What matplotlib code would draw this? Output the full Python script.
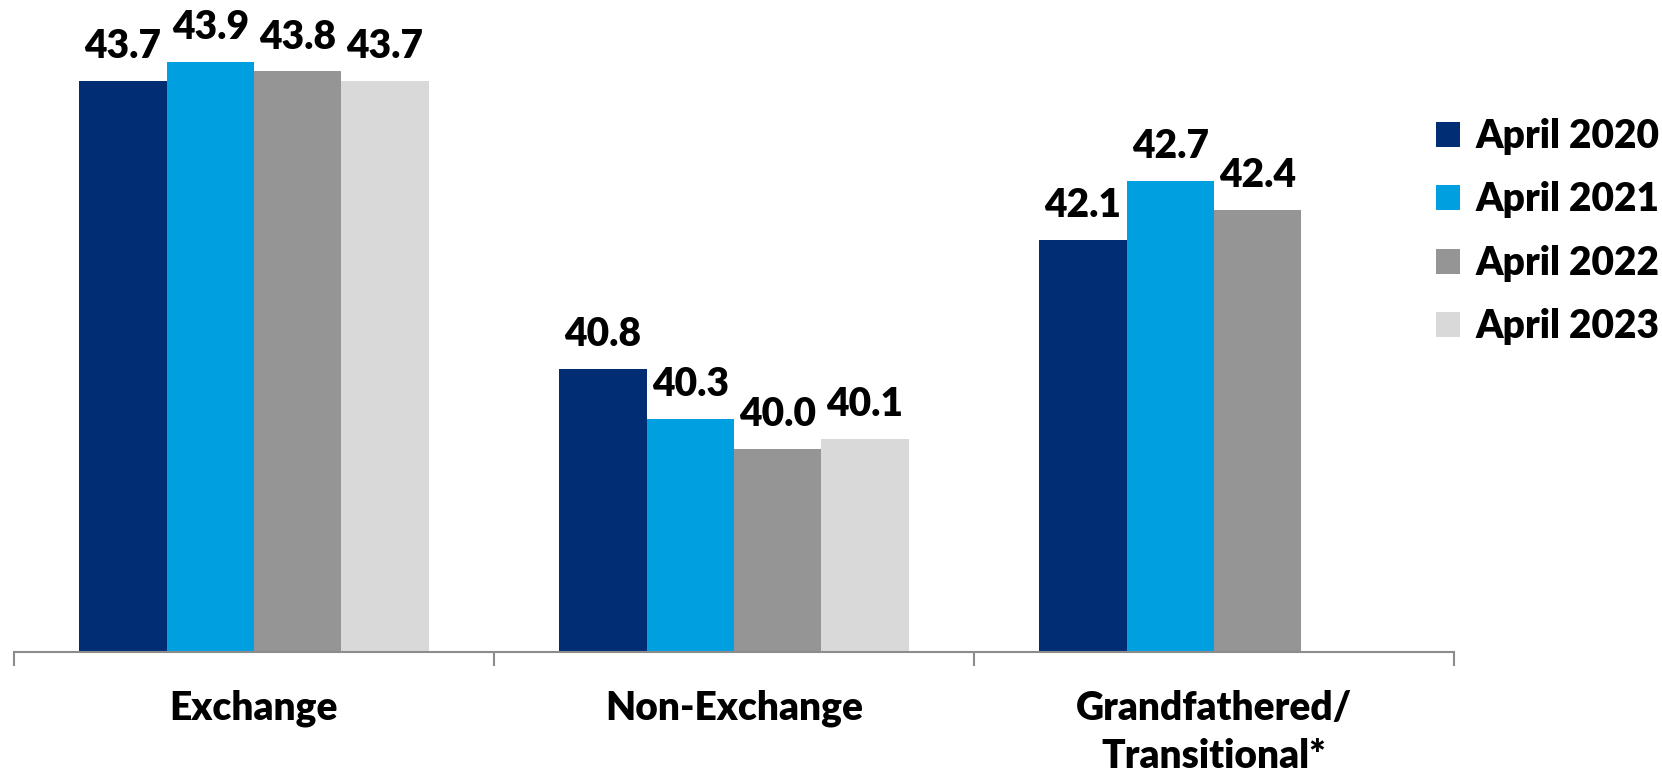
import matplotlib
matplotlib.use("Agg")
import matplotlib.pyplot as plt
from matplotlib.patches import Patch
import numpy as np

categories = ["Exchange", "Non-Exchange", "Grandfathered/\nTransitional*"]
series_names = ["April 2020", "April 2021", "April 2022", "April 2023"]
april_2020 = [43.7, 40.8, 42.1]
april_2021 = [43.9, 40.3, 42.7]
april_2022 = [43.8, 40.0, 42.4]
april_2023 = [43.7, 40.1, np.nan]
colors = ["#002D74", "#009FE0", "#959595", "#D9D9D9"]

series = [april_2020, april_2021, april_2022, april_2023]

plt.rcParams['font.family'] = ['Lato', 'DejaVu Sans']
FW = "heavy"
FS = 28
W, H = 1662, 777
fig = plt.figure(figsize=(W / 100, H / 100), dpi=100)
ax = fig.add_axes([14 / W, (H - 652) / H, (1454 - 14) / W, 652 / H])

x = np.arange(len(categories))
bw = 0.182
for i, (vals, name, col) in enumerate(zip(series, series_names, colors)):
    pos = x + (i - 1.5) * bw
    ax.bar(pos, vals, width=bw, color=col, label=name, zorder=2)
    for p, v in zip(pos, vals):
        if np.isnan(v):
            continue
        ax.annotate(f"{v:.1f}", (p, v), xytext=(0, 16.5), textcoords="offset points",
                    ha="center", va="baseline", fontsize=FS, fontweight=FW,
                    color="black")

ax.set_xlim(-0.5, 2.5)
ax.set_ylim(37.95, 44.52)
for s in ["top", "right", "left"]:
    ax.spines[s].set_visible(False)
ax.spines["bottom"].set_color("#8C8C8C")
ax.spines["bottom"].set_linewidth(1.5)
ax.spines["bottom"].set_zorder(3)
ax.set_yticks([])
ax.set_xticks(x)
ax.set_xticklabels(categories, fontsize=FS, fontweight=FW, linespacing=1.4)
ax.tick_params(axis="x", which="major", length=0, pad=27)
ax.set_xticks([-0.5, 0.5, 1.5, 2.5], minor=True)
ax.tick_params(axis="x", which="minor", length=10, width=1.5, color="#8C8C8C")

handles = [Patch(facecolor=c, edgecolor="none") for c in colors]
fig.legend(handles, series_names, loc="upper left",
           bbox_to_anchor=(1436 / W, 1 - 118 / H),
           frameon=False, prop={"weight": FW, "size": FS},
           handlelength=0.62, handleheight=0.62, handletextpad=0.4,
           labelspacing=0.68, borderaxespad=0, borderpad=0)

fig.savefig("out.png", dpi=100)
